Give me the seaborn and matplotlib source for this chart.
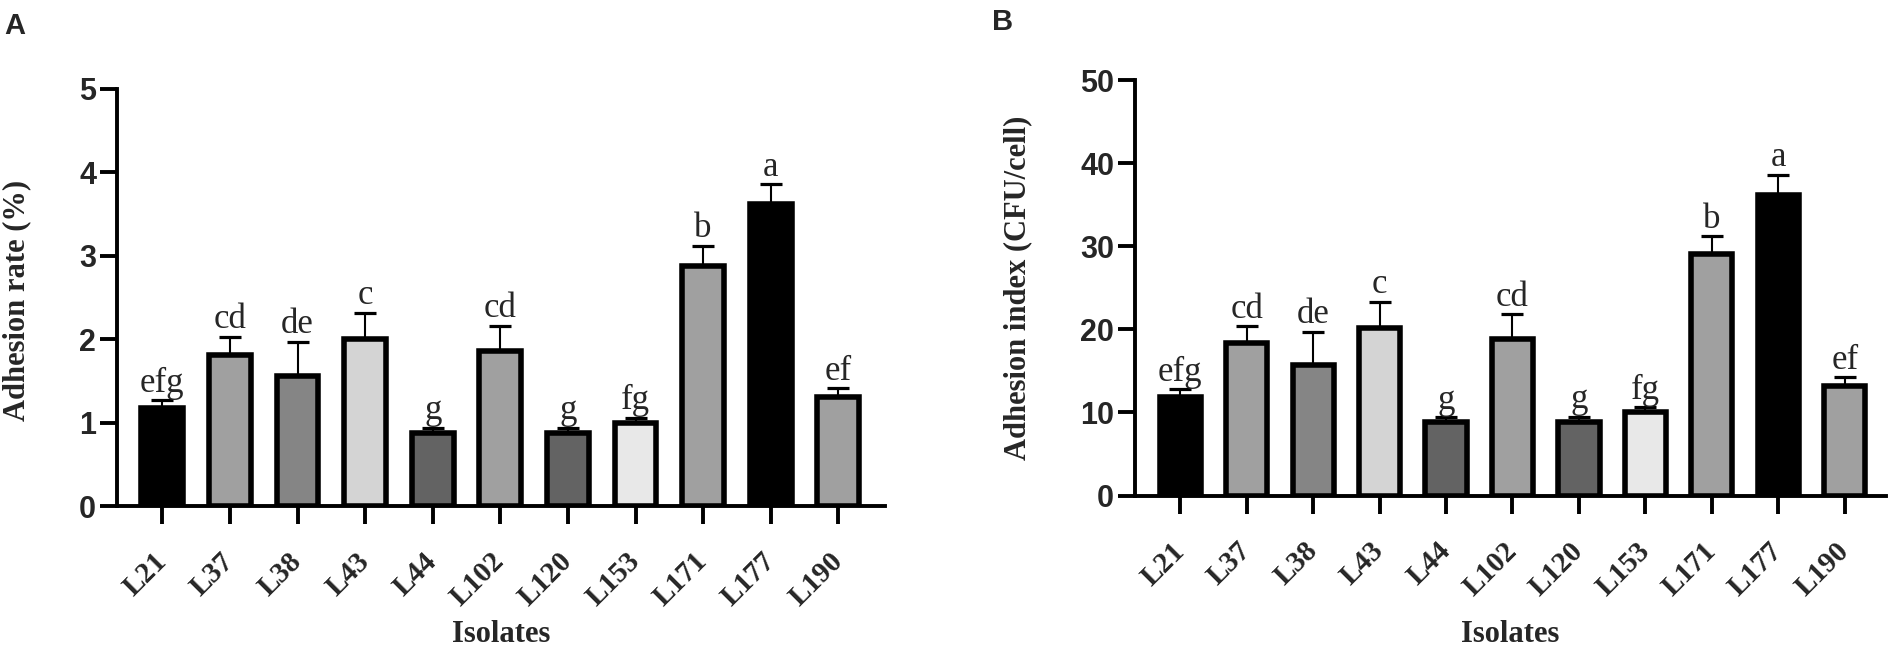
import numpy as np
import pandas as pd
import matplotlib
matplotlib.use("Agg")
import matplotlib.pyplot as plt
import seaborn as sns
from matplotlib import font_manager

# ---------------- data ----------------
isolates = ["L21", "L37", "L38", "L43", "L44", "L102", "L120", "L153", "L171", "L177", "L190"]
adhesion_rate = [1.17, 1.81, 1.56, 2.00, 0.88, 1.86, 0.87, 1.00, 2.88, 3.62, 1.31]
adhesion_rate_err = [0.10, 0.22, 0.41, 0.32, 0.06, 0.30, 0.07, 0.06, 0.24, 0.24, 0.10]
adhesion_index = [11.9, 18.3, 15.7, 20.1, 8.9, 18.8, 8.8, 10.1, 29.1, 36.2, 13.2]
adhesion_index_err = [0.9, 2.1, 4.0, 3.2, 0.5, 3.0, 0.7, 0.5, 2.1, 2.4, 1.0]
letters = ["efg", "cd", "de", "c", "g", "cd", "g", "fg", "b", "a", "ef"]
bar_colors = ["#000000", "#a0a0a0", "#858585", "#d4d4d4", "#636363", "#a0a0a0",
              "#636363", "#e8e8e8", "#a0a0a0", "#000000", "#a0a0a0"]
rate_ticks = [0, 1, 2, 3, 4, 5]
index_ticks = [0, 10, 20, 30, 40, 50]

sns.set_style("white")
plt.rcParams["font.family"] = ["Liberation Sans", "DejaVu Sans"]

avail = {f.name for f in font_manager.fontManager.ttflist}
num_font = "Liberation Sans Narrow" if "Liberation Sans Narrow" in avail else "Liberation Sans"
serif = "Liberation Serif"

fig = plt.figure(figsize=(18.96, 6.46), dpi=100)
axA = fig.add_axes([117 / 1896, (646 - 506) / 646, 768 / 1896, 417 / 646])
axB = fig.add_axes([1135 / 1896, (646 - 495.5) / 646, 751 / 1896, 415.5 / 646])


def panel(ax, values, errs, yticks, ylabel, xlim, ylabel_pos, xlabel_y):
    df = pd.DataFrame({"Isolate": isolates, "value": values})
    sns.barplot(data=df, x="Isolate", y="value", hue="Isolate", order=isolates,
                hue_order=isolates, palette=dict(zip(isolates, bar_colors)),
                legend=False, width=0.62, edgecolor="black", linewidth=4.0,
                saturation=1, errorbar=None, ax=ax, zorder=2)
    pos = np.arange(len(isolates))
    ax.errorbar(pos, values, yerr=[np.zeros(len(values)), errs], fmt="none",
                ecolor="black", elinewidth=1.5, capsize=8, capthick=2.3, zorder=1)
    for p, v, e, t in zip(pos, values, errs, letters):
        ax.annotate(t, (p, v + e), xytext=(0, 0.3), textcoords="offset points",
                    ha="center", va="bottom", fontsize=25, family=serif)
    ax.set_ylim(yticks[0], yticks[-1])
    ax.set_xlim(*xlim)
    ax.set_yticks(yticks)
    ax.set_yticklabels([str(t) for t in yticks], fontsize=22, fontweight="bold", family=num_font)
    ax.set_xticks(pos)
    ax.set_xticklabels(isolates, fontsize=21, fontweight="bold", family=serif,
                       rotation=45, ha="right", va="center", rotation_mode="anchor")
    for s in ["top", "right"]:
        ax.spines[s].set_visible(False)
    for s in ["left", "bottom"]:
        ax.spines[s].set_linewidth(2.8)
        ax.spines[s].set_color("black")
    ax.tick_params(axis="y", direction="out", length=12, width=2.8, pad=3, color="black", left=True)
    ax.tick_params(axis="x", direction="out", length=13, width=2.8, pad=24, color="black", bottom=True)
    ax.set_ylabel(ylabel, fontsize=22, fontweight="bold", family=serif)
    ax.yaxis.set_label_coords(*ylabel_pos)
    ax.set_xlabel("Isolates", fontsize=22, fontweight="bold", family=serif)
    ax.xaxis.set_label_coords(0.5, xlabel_y)
    ax.grid(False)


panel(axA, adhesion_rate, adhesion_rate_err, rate_ticks, "Adhesion rate (%)",
      (-0.67, 10.69), (-0.112, 0.492), -0.274)
panel(axB, adhesion_index, adhesion_index_err, index_ticks, "Adhesion index (CFU/cell)",
      (-0.68, 10.62), (-0.137, 0.499), -0.299)

fig.text(4 / 1896, 1 - 34 / 646, "A", fontsize=21, fontweight="bold", va="baseline", ha="left")
fig.text(992 / 1896, 1 - 30 / 646, "B", fontsize=21, fontweight="bold", va="baseline", ha="left")

fig.savefig("out.png", dpi=100)
